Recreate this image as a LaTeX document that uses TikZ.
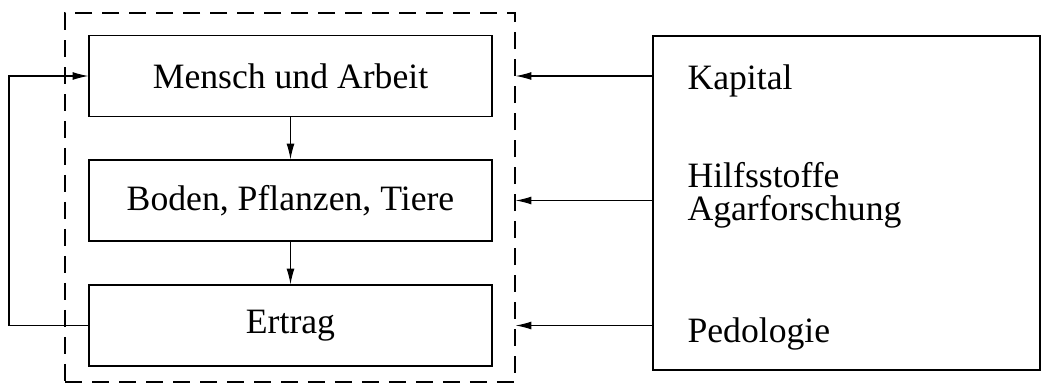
\documentclass[tikz,border=0pt]{standalone}
\usepackage{fontspec}
\setmainfont{Liberation Serif}
\usetikzlibrary{arrows.meta}
\usetikzlibrary{positioning}

\begin{document}
\begin{tikzpicture}[x=0.02cm,y=-0.02cm,line width=0.65pt,
    font=\fontsize{20.3}{18.8}\selectfont,
    box/.style={draw,minimum width=8.06cm,minimum height=1.62cm,inner sep=0pt},
    pfeil/.style={-{Latex[length=9pt,width=4.5pt]}}]
    \useasboundingbox (0,0) rectangle (1046,387);
    % Place nodes
    \node [box] (mensch) at (290.5,76) {Mensch und Arbeit};
    \node [box] (boden) at (290.5,200.5) {Boden, Pflanzen, Tiere};
    \node [box] (ertrag) at (290.5,325.5) {Ertrag};
    \node [draw,dash pattern=on 0.34cm off 0.2cm,minimum width=9cm,minimum height=7.38cm,inner sep=0pt] (betrieb) at (290,197.5) {};
    \node [draw,minimum width=7.74cm,minimum height=6.68cm,inner sep=0pt] (umwelt) at (846.5,203) {};

    \node [anchor=base west,inner sep=0pt] (kapital) at (687,89) {Kapital};
    \node [anchor=base west,inner sep=0pt] (hilf) at (687,187) {Hilfsstoffe};
    \node [anchor=base west,inner sep=0pt] (agrar) at (687,220) {Agarforschung};
    \node [anchor=base west,inner sep=0pt] (pedo) at (687,342) {Pedologie};
    \coordinate (rueck) at (9,0);

    % Connectors
    \draw [pfeil] (mensch) -- (boden);
    \draw [pfeil] (boden) -- (ertrag);
    \draw [pfeil] (ertrag.west) -- (rueck |- ertrag) -- (rueck |- mensch) -- (mensch.west);

    \draw [pfeil] (umwelt.west |- mensch) -- (betrieb.east |- mensch);
    \draw [pfeil] (umwelt.west |- boden) -- (betrieb.east |- boden);
    \draw [pfeil] (umwelt.west |- ertrag) -- (betrieb.east |- ertrag);
\end{tikzpicture}
\end{document}
